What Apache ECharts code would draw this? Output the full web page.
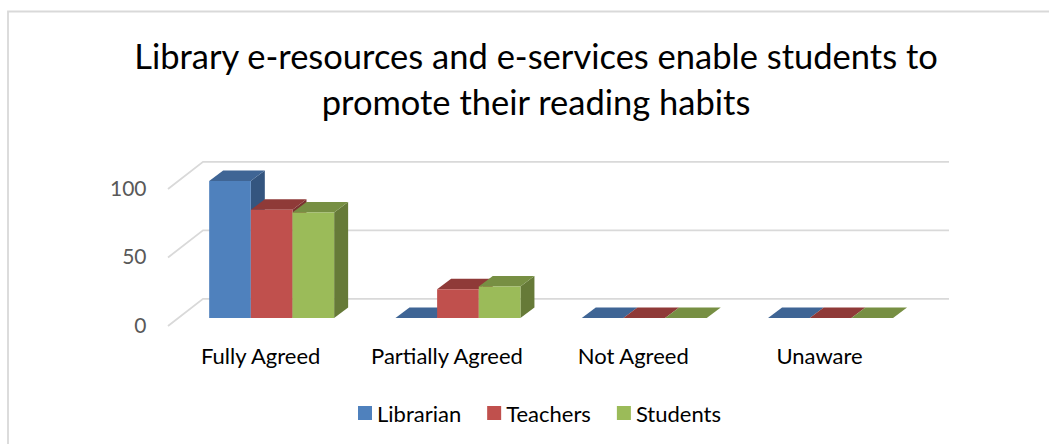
<!DOCTYPE html>
<html><head><meta charset="utf-8">
<style>html,body{margin:0;padding:0;background:#fff}#c{width:1049px;height:444px}</style>
<script src="https://cdn.jsdelivr.net/npm/echarts@6/dist/echarts.min.js"></script>
</head><body><div id="c"></div>
<script>
const titleText = 'Library e-resources and e-services enable students to\npromote their reading habits';
const categories = ['Fully Agreed', 'Partially Agreed', 'Not Agreed', 'Unaware'];
const librarian = [100, 0, 0, 0];
const teachers = [79, 21, 0, 0];
const students = [77, 23, 0, 0];
const yTicks = [0, 50, 100];
const FONT = 'Lato';

const chart = echarts.init(document.getElementById('c'), null, {renderer: 'svg'});
const BAR_DX = 14, BAR_DY = 10.5;

function barSeries(name, values, idx, front, top, side) {
  return {
    name, type: 'custom', coordinateSystem: 'cartesian2d',
    itemStyle: {color: front}, z: 3 + idx,
    data: values.map((v, i) => [i, v]),
    encode: {x: 0, y: 1},
    renderItem(params, api) {
      const base = api.coord([api.value(0), 0]);
      const topPt = api.coord([api.value(0), api.value(1)]);
      const w = api.size([1, 0])[0] * 0.2236;
      const x0 = base[0] + (idx - 1.5) * w, x1 = x0 + w;
      const yb = base[1], yt = topPt[1];
      const children = [];
      if (yb - yt > 0.5) {
        children.push({type: 'polygon', shape: {points: [[x1, yt], [x1 + BAR_DX, yt - BAR_DY], [x1 + BAR_DX, yb - BAR_DY], [x1, yb]]}, style: {fill: side}});
      }
      children.push({type: 'polygon', shape: {points: [[x0, yt], [x0 + BAR_DX, yt - BAR_DY], [x1 + BAR_DX, yt - BAR_DY], [x1, yt]]}, style: {fill: top}});
      if (yb - yt > 0.5) {
        children.push({type: 'rect', shape: {x: x0, y: yt, width: w, height: yb - yt}, style: {fill: front}});
      }
      return {type: 'group', children};
    }
  };
}

chart.setOption({
  animation: false,
  backgroundColor: '#fff',
  textStyle: {fontFamily: FONT},
  title: {
    text: titleText, left: 531, top: 27, textAlign: 'center',
    textStyle: {fontFamily: FONT, fontSize: 34.5, fontWeight: 'normal', color: '#000', lineHeight: 46}
  },
  legend: {
    left: 353, top: 397, itemWidth: 14, itemHeight: 14, itemGap: 26, icon: 'rect',
    data: ['Librarian', 'Teachers', 'Students'],
    textStyle: {fontFamily: FONT, fontSize: 22, color: '#000'}
  },
  grid: {left: 178.5, right: 1049 - 923.7, top: 181, height: 137, containLabel: false},
  xAxis: {
    type: 'category', data: categories,
    axisLine: {show: false}, axisTick: {show: false}, splitLine: {show: false},
    axisLabel: {interval: 0, hideOverlap: false, fontFamily: FONT, fontSize: 22, color: '#000', margin: 26, padding: [0, 22, 0, 0]}
  },
  yAxis: {
    type: 'value', min: 0, max: 100, interval: 50,
    axisLine: {show: false}, axisTick: {show: false}, splitLine: {show: false},
    axisLabel: {fontFamily: FONT, fontSize: 21, color: '#595959', margin: 32, verticalAlign: 'top', lineHeight: 12}
  },
  series: [
    {
      name: 'walls', type: 'custom', coordinateSystem: 'cartesian2d', z: 1, silent: true,
      data: yTicks.map(t => [0, t]), encode: {y: 1},
      renderItem(params, api) {
        const p = api.coord([0, api.value(1)]);
        const g = params.coordSys;
        const y = p[1];
        return {
          type: 'polyline',
          shape: {points: [[g.x - 10.5, y + 8], [g.x + 24.5, y - 19.2], [g.x + g.width + 25.3, y - 19.2]]},
          style: {fill: 'none', stroke: '#D9D9D9', lineWidth: 1.8}
        };
      }
    },
    barSeries('Librarian', librarian, 0, '#4F81BD', '#3F6595', '#34557F'),
    barSeries('Teachers', teachers, 1, '#C0504D', '#8F3A38', '#7A3230'),
    barSeries('Students', students, 2, '#9BBB59', '#778F43', '#667A38')
  ],
  graphic: [{
    type: 'polyline', silent: true, z: 0,
    shape: {points: [[8, 444], [8, 11.5], [1049, 11.5]]},
    style: {fill: 'none', stroke: '#D9D9D9', lineWidth: 1.8}
  }]
});
</script></body></html>
